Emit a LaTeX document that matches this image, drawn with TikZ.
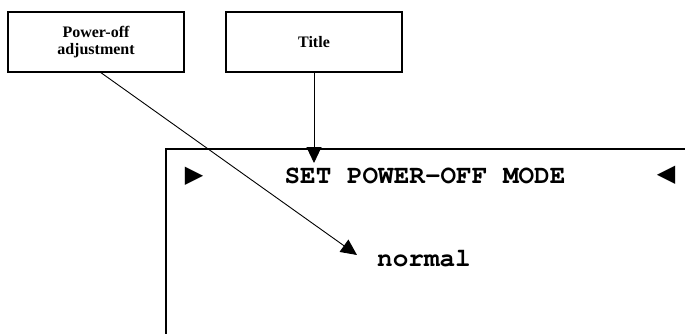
\documentclass[tikz,border=0pt]{standalone}
\usepackage[T1]{fontenc}
\usepackage{fontspec}
\setmainfont{Liberation Serif}
\setmonofont{Liberation Mono}
\newfontfamily\symfont{DejaVu Sans}
\newcommand\lcdfont{\fontencoding{T1}\fontfamily{pcr}\fontseries{b}\selectfont}
\usetikzlibrary{arrows.meta, positioning}
\tikzstyle{arrow} = [line width=0.9pt, -{Triangle[length=16pt,width=15pt]}]
\tikzstyle{callout} = [rectangle, draw=black, line width=1.3pt, minimum width=176pt, minimum height=60pt, align=center, font=\fontsize{16}{17}\selectfont\bfseries]
\tikzstyle{lcd} = [font=\fontsize{26}{28}\lcdfont, inner sep=0pt]
\tikzstyle{pointer} = [font=\fontsize{24}{26}\selectfont\symfont, inner sep=0pt]

\begin{document}
\begin{tikzpicture}[x=1pt, y=-1pt]
    \useasboundingbox (0,0) rectangle (685,334);

    % Callout boxes
    \node[callout] (pwr) at (96,42) {Power-off\\adjustment};
    \node[callout] (ttl) at (314,42) {Title};

    % Display frame (cut off at the right and bottom)
    \draw[line width=2pt] (685,149) -- (166,149) -- (166,334);

    % Display contents
    \node[pointer] (lptr) at (194,176) {▶};
    \node[lcd] (head) at (425,176.5) {SET POWER-OFF MODE};
    \node[pointer] (rptr) at (666,175) {◀};
    \node[lcd] (mode) at (424,259) {normal};

    % Arrow targets
    \coordinate (headtip) at (314,163);
    \coordinate (modetip) at (357,255);
    \coordinate (pwrfoot) at (100,72);

    % Arrows
    \draw[arrow] (ttl.south) -- (headtip);
    \draw[arrow] (pwrfoot) -- (modetip);
\end{tikzpicture}
\end{document}
